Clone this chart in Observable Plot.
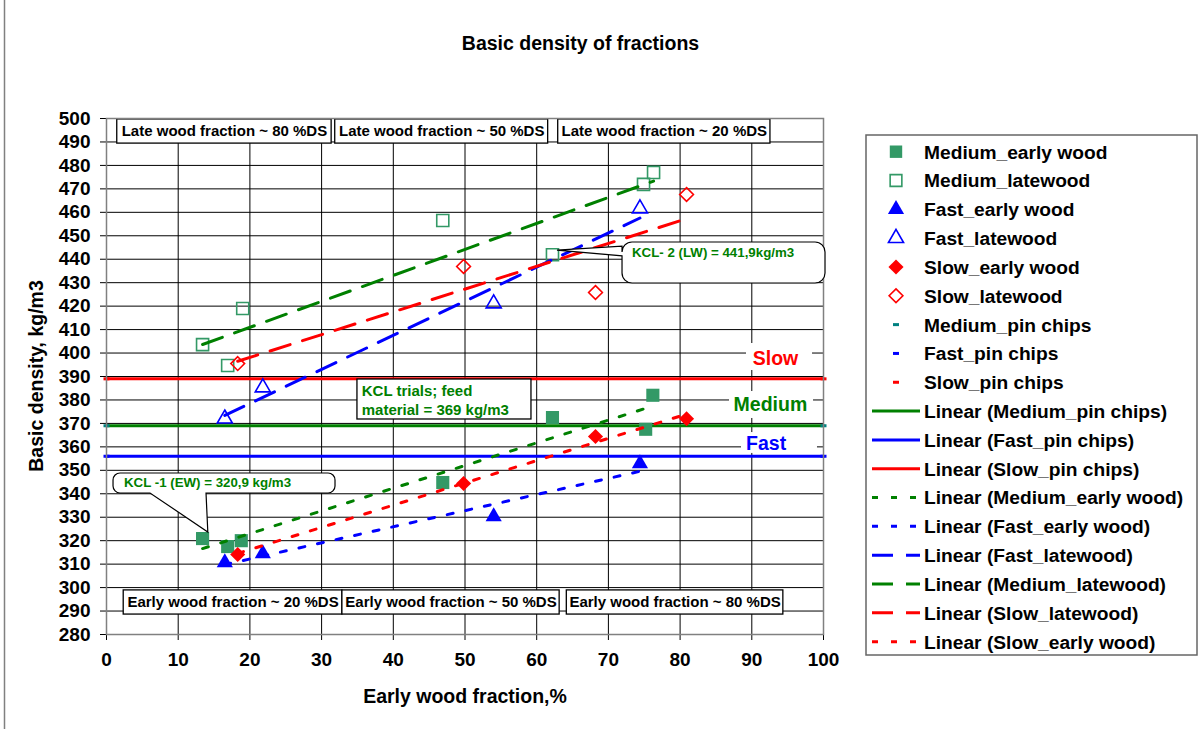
<!DOCTYPE html>
<html><head><meta charset="utf-8">
<script src="https://cdn.jsdelivr.net/npm/d3@7"></script>
<script src="https://cdn.jsdelivr.net/npm/@observablehq/plot@0.6"></script>
<style>
body{margin:0;background:#fff;}
#chart{position:relative;width:1198px;height:729px;overflow:hidden;}
</style></head><body><div id="chart"></div>
<script>
// ---------- DATA ----------
const medEarlyX  = [13.4, 16.9, 18.8, 46.9, 62.2, 75.2, 76.2];
const medEarlyY  = [320.9, 317.5, 320.0, 344.8, 372.5, 367.5, 382.0];
const medLateX   = [13.4, 16.9, 19.0, 46.9, 62.2, 74.9, 76.3];
const medLateY   = [403.6, 394.7, 419.0, 456.5, 441.9, 471.9, 477.0];
const fastEarlyX = [16.5, 21.8, 54.0, 74.4];
const fastEarlyY = [310.7, 314.5, 330.3, 352.9];
const fastLateX  = [16.5, 21.8, 54.0, 74.4];
const fastLateY  = [372.0, 385.3, 421.1, 461.6];
const slowEarlyX = [18.3, 49.8, 68.2, 80.9];
const slowEarlyY = [314.1, 344.4, 364.4, 372.0];
const slowLateX  = [18.3, 49.8, 68.2, 80.9];
const slowLateY  = [395.5, 436.9, 425.8, 467.6];
const pinChipsX  = [0, 100];
const mediumPinY = [369, 369];
const fastPinY   = [356, 356];
const slowPinY   = [389, 389];
const xTicks = [0,10,20,30,40,50,60,70,80,90,100];
const yTicks = [280,290,300,310,320,330,340,350,360,370,380,390,400,410,420,430,440,450,460,470,480,490,500];
const legendLabels = ["Medium_early wood","Medium_latewood","Fast_early wood","Fast_latewood","Slow_early wood","Slow_latewood","Medium_pin chips","Fast_pin chips","Slow_pin chips","Linear (Medium_pin chips)","Linear (Fast_pin chips)","Linear (Slow_pin chips)","Linear (Medium_early wood)","Linear (Fast_early wood)","Linear (Fast_latewood)","Linear (Medium_latewood)","Linear (Slow_latewood)","Linear (Slow_early wood)"];

// ---------- ANNOTATIONS (data coordinates) ----------
const boxLabels = ["Late wood fraction ~ 80 %DS","Late wood fraction ~ 50 %DS","Late wood fraction ~ 20 %DS","Early wood fraction ~ 20 %DS","Early wood fraction ~ 50 %DS","Early wood fraction ~ 80 %DS"];
const boxX1 = [1.5, 31.9, 63.0, 2.4, 32.9, 64.2];
const boxX2 = [31.4, 61.6, 92.6, 32.9, 63.2, 94.4];
const boxY1 = [489.3, 489.3, 489.3, 288.5, 288.5, 288.5];
const boxY2 = [499.6, 499.6, 499.6, 298.8, 298.8, 298.8];

const FONT = "'Liberation Sans', Arial, Helvetica, sans-serif";
const GREEN_MARK = "#339966", GREEN = "#008000", BLUE = "#0000ff", RED = "#ff0000", TEAL = "#008080";
const DOT = "6,13", LONG = "21,13";

const pts = (xs, ys) => xs.map((x, i) => ({x, y: ys[i]}));
const medEarly = pts(medEarlyX, medEarlyY), medLate = pts(medLateX, medLateY);
const fastEarly = pts(fastEarlyX, fastEarlyY), fastLate = pts(fastLateX, fastLateY);
const slowEarly = pts(slowEarlyX, slowEarlyY), slowLate = pts(slowLateX, slowLateY);
const medPin = pts(pinChipsX, mediumPinY), fastPin = pts(pinChipsX, fastPinY), slowPin = pts(pinChipsX, slowPinY);
const boxes = boxLabels.map((label, i) => ({label, x1: boxX1[i], x2: boxX2[i], y1: boxY1[i], y2: boxY2[i]}));

const levelLabels = [
  {text: "Slow", x: 93.3, y: 397.7, color: RED, x1: 89.26, x2: 98.47, y1: 392.56, y2: 404.07},
  {text: "Medium", x: 92.6, y: 378.1, color: GREEN, x1: 86.89, x2: 98.61, y1: 372.1, y2: 383.6},
  {text: "Fast", x: 92.0, y: 361.3, color: BLUE, x1: 88.56, x2: 99.16, y1: 357.2, y2: 366.1}
];

const dashSymbol = {draw(ctx) { ctx.moveTo(-3, -1.5); ctx.lineTo(3, -1.5); ctx.lineTo(3, 1.5); ctx.lineTo(-3, 1.5); ctx.closePath(); }};

const reg = (data, stroke, dash) => Plot.linearRegressionY(data, {x: "x", y: "y", stroke, strokeWidth: 3, ci: 0, strokeDasharray: dash});

const plot = Plot.plot({
  width: 1198, height: 729,
  marginLeft: 106, marginRight: 375, marginTop: 118, marginBottom: 95,
  style: {fontFamily: FONT, fontSize: "19px", fontWeight: "bold", color: "#000", background: "white", overflow: "visible"},
  x: {domain: [0, 100], ticks: xTicks, tickSize: 6, tickPadding: 12, label: null},
  y: {domain: [280, 500], ticks: yTicks, tickSize: 6, tickPadding: 10, label: null},
  marks: [
    Plot.ruleX(xTicks, {stroke: "#000", strokeWidth: 1}),
    Plot.ruleY(yTicks, {stroke: "#000", strokeWidth: 1}),
    Plot.rect(levelLabels, {x1: "x1", x2: "x2", y1: "y1", y2: "y2", fill: "white"}),
    reg(medPin, GREEN), reg(fastPin, BLUE), reg(slowPin, RED),
    Plot.dot(medPin, {x: "x", y: "y", symbol: dashSymbol, fill: TEAL}),
    Plot.dot(fastPin, {x: "x", y: "y", symbol: dashSymbol, fill: BLUE}),
    Plot.dot(slowPin, {x: "x", y: "y", symbol: dashSymbol, fill: RED}),
    Plot.dot(medEarly, {x: "x", y: "y", symbol: "square", r: 7.4, fill: GREEN_MARK}),
    Plot.dot(medLate, {x: "x", y: "y", symbol: "square", r: 6.8, stroke: GREEN_MARK, strokeWidth: 1.6, fill: "none"}),
    Plot.dot(fastEarly, {x: "x", y: "y", symbol: "triangle", r: 6.0, fill: BLUE}),
    Plot.dot(fastLate, {x: "x", y: "y", symbol: "triangle", r: 5.6, stroke: BLUE, strokeWidth: 1.6, fill: "none"}),
    Plot.dot(slowEarly, {x: "x", y: "y", symbol: "diamond2", r: 6.8, fill: RED}),
    Plot.dot(slowLate, {x: "x", y: "y", symbol: "diamond2", r: 6.2, stroke: RED, strokeWidth: 1.6, fill: "none"}),
    reg(medEarly, GREEN, DOT), reg(fastEarly, BLUE, DOT), reg(slowEarly, RED, DOT),
    reg(medLate, GREEN, LONG), reg(fastLate, BLUE, LONG), reg(slowLate, RED, LONG),
    Plot.text(levelLabels, {x: "x", y: "y", text: "text", fill: "color", fontSize: 19.5, fontWeight: "bold"}),
    Plot.rect(boxes, {x1: "x1", x2: "x2", y1: "y1", y2: "y2", fill: "white", stroke: "#000", strokeWidth: 1.3}),
    Plot.text(boxes, {x: d => (d.x1 + d.x2) / 2, y: d => (d.y1 + d.y2) / 2, text: "label", fontSize: 15, fontWeight: "bold", fill: "#000"}),
    Plot.rect([{x1: 35.0, x2: 59.27, y1: 371.67, y2: 388.72}], {x1: "x1", x2: "x2", y1: "y1", y2: "y2", fill: "white", stroke: "#000", strokeWidth: 1.3}),
    Plot.text([{x: 35.6, y: 380.2, t: "KCL trials; feed\nmaterial = 369 kg/m3"}], {x: "x", y: "y", text: "t", textAnchor: "start", lineHeight: 1.27, fontSize: 15, fontWeight: "bold", fill: GREEN}),
    Plot.frame({stroke: "#808080", strokeWidth: 1.5})
  ]
});

document.getElementById("chart").appendChild(plot);

const svg = d3.select(plot);
const sx = plot.scale("x"), sy = plot.scale("y");
const lin = s => v => s.range[0] + (v - s.domain[0]) / (s.domain[1] - s.domain[0]) * (s.range[1] - s.range[0]);
const fx = sx.apply ? sx.apply : lin(sx), fy = sy.apply ? sy.apply : lin(sy);

// Callouts
const callouts = [
  {text: "KCL -1 (EW) = 320,9 kg/m3", x1: 0.98, x2: 31.94, yTop: 348.65, yBot: 340.12, r: 7,
   side: "bottom", a: 6.14, b: 13.95, tipX: 14.2, tipY: 323.5, tx: 2.5, ty: 344.8},
  {text: "KCL- 2 (LW) = 441,9kg/m3", x1: 71.97, x2: 100.28, yTop: 447.13, yBot: 429.65, r: 10,
   side: "left", a: 445.4, b: 441.2, tipX: 62.9, tipY: 443.7, tx: 73.36, ty: 442.9}
];
const g = svg.append("g");
for (const c of callouts) {
  const L = fx(c.x1), R = fx(c.x2), T = fy(c.yTop), B = fy(c.yBot), r = c.r;
  const tx = fx(c.tipX), ty = fy(c.tipY);
  let p = `M${L + r},${T}H${R - r}A${r},${r} 0 0 1 ${R},${T + r}V${B - r}A${r},${r} 0 0 1 ${R - r},${B}`;
  if (c.side === "bottom") {
    p += `H${fx(c.b)}L${tx},${ty}L${fx(c.a)},${B}`;
  }
  p += `H${L + r}A${r},${r} 0 0 1 ${L},${B - r}`;
  if (c.side === "left") {
    p += `V${fy(c.b)}L${tx},${ty}L${L},${fy(c.a)}`;
  }
  p += `V${T + r}A${r},${r} 0 0 1 ${L + r},${T}Z`;
  g.append("path").attr("d", p).attr("fill", "white").attr("stroke", "#000").attr("stroke-width", 1.2);
  g.append("text").attr("x", fx(c.tx)).attr("y", fy(c.ty)).attr("dy", "0.35em").attr("text-anchor", "start")
    .attr("font-size", 13.3).attr("font-weight", "bold").attr("fill", GREEN).text(c.text);
}

// Title and axis titles
svg.append("text").attr("x", 580.5).attr("y", 50).attr("text-anchor", "middle")
  .attr("font-size", 19.5).attr("font-weight", "bold").text("Basic density of fractions");
svg.append("text").attr("x", 465).attr("y", 703).attr("text-anchor", "middle")
  .attr("font-size", 19.5).attr("font-weight", "bold").text("Early wood fraction,%");
svg.append("text").attr("transform", "translate(43,376) rotate(-90)").attr("text-anchor", "middle")
  .attr("font-size", 19.5).attr("font-weight", "bold").text("Basic density, kg/m3");
// Outer chart border (left edge)
svg.append("line").attr("x1", 4.5).attr("x2", 4.5).attr("y1", 0).attr("y2", 729).attr("stroke", "#808080").attr("stroke-width", 1.5);

// Legend
const symSize = r => Math.PI * r * r;
const legendSpec = [
  {sym: d3.symbolSquare, r: 7, fill: GREEN_MARK},
  {sym: d3.symbolSquare, r: 6.6, stroke: GREEN_MARK},
  {sym: d3.symbolTriangle, r: 6.0, fill: BLUE},
  {sym: d3.symbolTriangle, r: 5.6, stroke: BLUE},
  {sym: d3.symbolDiamond2, r: 6.8, fill: RED},
  {sym: d3.symbolDiamond2, r: 6.2, stroke: RED},
  {pin: TEAL}, {pin: BLUE}, {pin: RED},
  {line: GREEN}, {line: BLUE}, {line: RED},
  {line: GREEN, dash: DOT}, {line: BLUE, dash: DOT}, {line: BLUE, dash: LONG},
  {line: GREEN, dash: LONG}, {line: RED, dash: LONG}, {line: RED, dash: DOT}
];
const lg = svg.append("g");
lg.append("rect").attr("x", 866).attr("y", 135).attr("width", 331).attr("height", 520)
  .attr("fill", "white").attr("stroke", "#666").attr("stroke-width", 1.5);
legendLabels.forEach((label, i) => {
  const s = legendSpec[i], y = 151.7 + i * 28.82;
  if (s.sym) {
    lg.append("path").attr("transform", `translate(896,${y})`)
      .attr("d", d3.symbol(s.sym, symSize(s.r))())
      .attr("fill", s.fill || "none").attr("stroke", s.stroke || "none").attr("stroke-width", 1.6);
  } else if (s.pin) {
    lg.append("rect").attr("x", 893).attr("y", y - 1.5).attr("width", 6).attr("height", 3).attr("fill", s.pin);
  } else {
    lg.append("line").attr("x1", 872).attr("x2", 920).attr("y1", y).attr("y2", y)
      .attr("stroke", s.line).attr("stroke-width", 3).attr("stroke-dasharray", s.dash || null);
  }
  lg.append("text").attr("x", 924).attr("y", y).attr("dy", "0.36em").attr("text-anchor", "start")
    .attr("font-size", 19.2).attr("font-weight", "bold").text(label);
});
</script></body></html>
